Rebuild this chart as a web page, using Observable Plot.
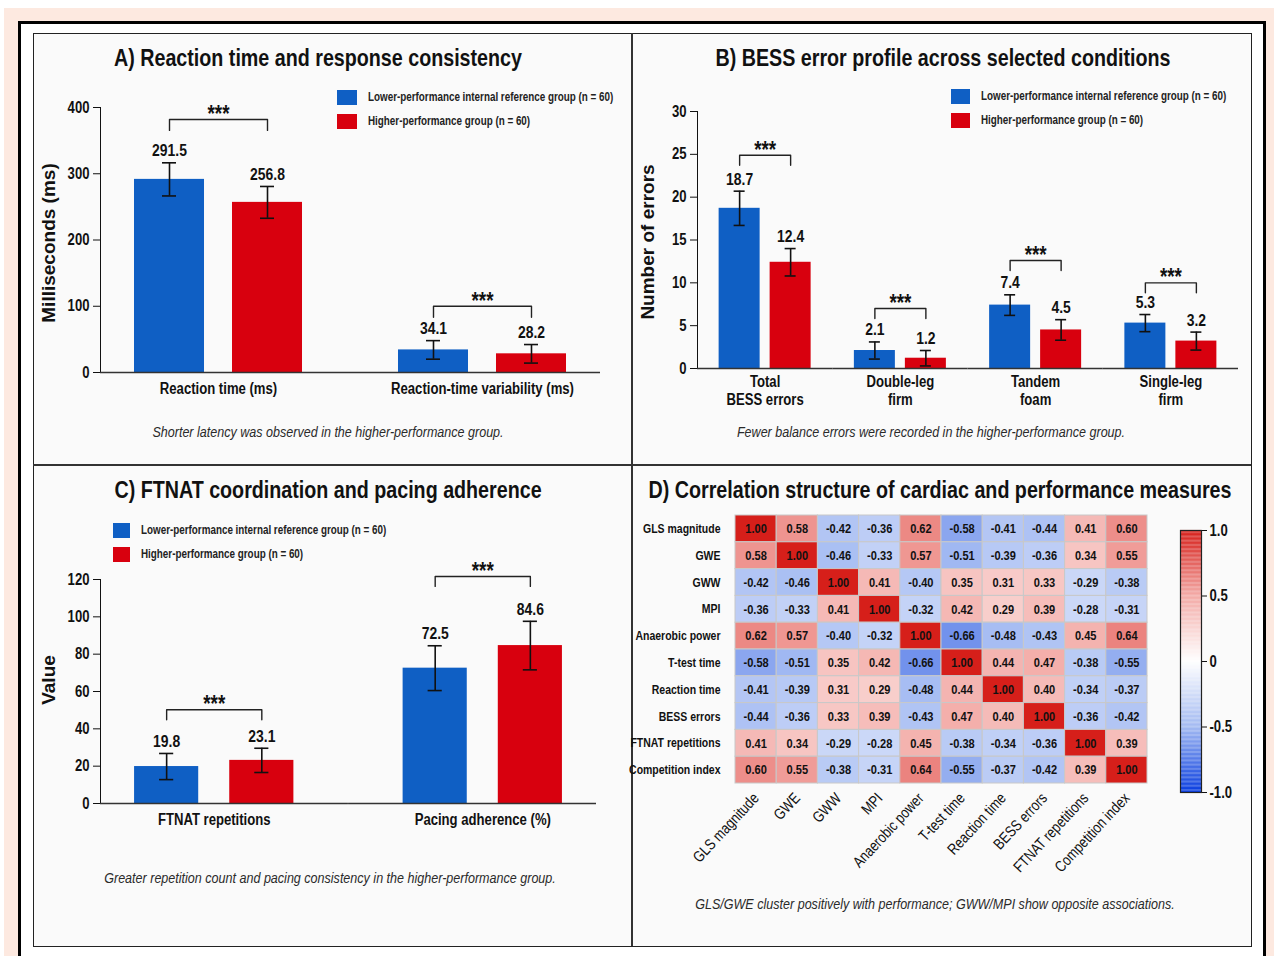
<!DOCTYPE html>
<html><head><meta charset="utf-8">
<script src="https://cdn.jsdelivr.net/npm/d3@7"></script>
<script src="https://cdn.jsdelivr.net/npm/@observablehq/plot@0.6"></script>
<style>
body{margin:0;width:1274px;height:956px;overflow:hidden;position:relative;background:#fff;font-family:'Liberation Sans',Arial,sans-serif;}
.c{position:absolute;transform:translate(-50%,-50%) scaleX(0.82);white-space:nowrap}
.title{font-weight:bold;font-size:24px;color:#111}
.cap{font-style:italic;font-size:15.3px;color:#2a2a2a}
.leg{position:absolute;font-size:12px;color:#222;font-weight:bold;white-space:nowrap;transform-origin:0 50%;transform:translateY(-50%) scaleX(0.82)}
.ylab{position:absolute;font-family:'Liberation Sans',Arial,sans-serif;font-weight:bold;font-size:19px;color:#111;white-space:nowrap;transform:translate(-50%,-50%) rotate(-90deg)}
</style></head><body>
<script>
// ---------------- data ----------------
const groupKeys = ["Lower", "Higher"];
const groupLabels = ["Lower-performance internal reference group (n = 60)", "Higher-performance group (n = 60)"];
const groupColors = ["#0f5fc4", "#d8000e"];
const sigLabel = "***";

const aCategories = ["Reaction time (ms)", "Reaction-time variability (ms)"];
const aLower = [291.5, 34.1];
const aHigher = [256.8, 28.2];
const aLowerSD = [25, 14];
const aHigherSD = [24, 14];
const aBrackets = [382, 100];
const aTicks = [0, 100, 200, 300, 400];

const bCategories = ["Total\nBESS errors", "Double-leg\nfirm", "Tandem\nfoam", "Single-leg\nfirm"];
const bLower = [18.7, 2.1, 7.4, 5.3];
const bHigher = [12.4, 1.2, 4.5, 3.2];
const bLowerSD = [2.0, 1.0, 1.2, 1.0];
const bHigherSD = [1.6, 0.9, 1.2, 1.05];
const bBrackets = [24.9, 7.0, 12.6, 10.0];
const bTicks = [0, 5, 10, 15, 20, 25, 30];

const cCategories = ["FTNAT repetitions", "Pacing adherence (%)"];
const cLower = [19.8, 72.5];
const cHigher = [23.1, 84.6];
const cLowerSD = [7, 12];
const cHigherSD = [6.5, 13];
const cBrackets = [50.2, 121.6];
const cTicks = [0, 20, 40, 60, 80, 100, 120];

const corrVars = ["GLS magnitude", "GWE", "GWW", "MPI", "Anaerobic power", "T-test time", "Reaction time", "BESS errors", "FTNAT repetitions", "Competition index"];
const corrMatrix = [
  [1.00, 0.58, -0.42, -0.36, 0.62, -0.58, -0.41, -0.44, 0.41, 0.60],
  [0.58, 1.00, -0.46, -0.33, 0.57, -0.51, -0.39, -0.36, 0.34, 0.55],
  [-0.42, -0.46, 1.00, 0.41, -0.40, 0.35, 0.31, 0.33, -0.29, -0.38],
  [-0.36, -0.33, 0.41, 1.00, -0.32, 0.42, 0.29, 0.39, -0.28, -0.31],
  [0.62, 0.57, -0.40, -0.32, 1.00, -0.66, -0.48, -0.43, 0.45, 0.64],
  [-0.58, -0.51, 0.35, 0.42, -0.66, 1.00, 0.44, 0.47, -0.38, -0.55],
  [-0.41, -0.39, 0.31, 0.29, -0.48, 0.44, 1.00, 0.40, -0.34, -0.37],
  [-0.44, -0.36, 0.33, 0.39, -0.43, 0.47, 0.40, 1.00, -0.36, -0.42],
  [0.41, 0.34, -0.29, -0.28, 0.45, -0.38, -0.34, -0.36, 1.00, 0.39],
  [0.60, 0.55, -0.38, -0.31, 0.64, -0.55, -0.37, -0.42, 0.39, 1.00]
];
const colorbarTicks = [-1, -0.5, 0, 0.5, 1];

// ---------------- helpers ----------------
const FONT = "'Liberation Sans',Arial,sans-serif";
const NARROW_K = 0.82;
function div(styles, text, cls) {
  const e = document.createElement("div");
  if (cls) e.className = cls;
  Object.assign(e.style, styles);
  if (text != null) e.textContent = text;
  document.body.appendChild(e);
  return e;
}
function ctext(x, y, text, cls) { return div({left: x + "px", top: y + "px"}, text, cls === "ylab" ? "ylab" : "c " + cls); }
// condense every SVG text horizontally around its own anchor (narrow typeface look)
function narrow(svg) {
  svg.querySelectorAll("text").forEach(t => {
    const tr = t.getAttribute("transform");
    if (tr) t.setAttribute("transform", tr + ` scale(${NARROW_K},1)`);
    else {
      const x = +(t.getAttribute("x") || 0), y = +(t.getAttribute("y") || 0);
      t.setAttribute("transform", `translate(${x},${y}) scale(${NARROW_K},1) translate(${-x},${-y})`);
    }
  });
  return svg;
}
function place(svg, left, top) {
  narrow(svg);
  svg.style.position = "absolute"; svg.style.left = left + "px"; svg.style.top = top + "px";
  document.body.appendChild(svg);
}
function legend(x, y, gap, sw, sh) {
  groupLabels.forEach((lab, i) => {
    div({position: "absolute", left: x + "px", top: (y + i * gap - sh / 2) + "px", width: sw + "px", height: sh + "px", background: groupColors[i]});
    div({left: (x + sw + 11) + "px", top: (y + i * gap) + "px"}, lab, "leg");
  });
}

// ---------------- page frame ----------------
div({position: "absolute", left: "4px", top: "8px", width: "1270px", height: "960px", background: "#fde9e0"});
div({position: "absolute", left: "18px", top: "21px", width: "1248px", height: "960px", border: "3px solid #000", boxSizing: "border-box", background: "#fff"});
div({position: "absolute", left: "33px", top: "33px", width: "1219px", height: "914px", border: "1.5px solid #222", boxSizing: "border-box", background: "#fafafa"});
div({position: "absolute", left: "631px", top: "33px", width: "1.6px", height: "913px", background: "#333"});
div({position: "absolute", left: "33px", top: "464px", width: "1218px", height: "1.6px", background: "#333"});

// ---------------- grouped bar panels ----------------
function groupedPlot(cfg) {
  const data = cfg.cats.flatMap((c, i) => [
    {cat: c, group: "Lower", value: cfg.lower[i], sd: cfg.lowerSD[i]},
    {cat: c, group: "Higher", value: cfg.higher[i], sd: cfg.higherSD[i]}
  ]);
  const bracketPts = cfg.cats.flatMap((c, i) => [
    {cat: c, group: "Lower", y: cfg.brackets[i] - cfg.leg},
    {cat: c, group: "Lower", y: cfg.brackets[i]},
    {cat: c, group: "Higher", y: cfg.brackets[i]},
    {cat: c, group: "Higher", y: cfg.brackets[i] - cfg.leg}
  ]);
  const stars = cfg.cats.map((c, i) => ({cat: c, y: cfg.brackets[i]}));
  const n = cfg.cats.length;
  const baselines = cfg.cats.map((c, i) => Plot.ruleY([c], {
    fx: d => d, y: () => 0, stroke: "#333", strokeWidth: 1.6,
    insetLeft: i > 0 ? -cfg.gap / 2 : 0, insetRight: i < n - 1 ? -cfg.gap / 2 : 0
  }));
  return Plot.plot({
    width: cfg.width, height: cfg.height,
    marginLeft: cfg.ml, marginRight: cfg.mr, marginTop: cfg.mt, marginBottom: cfg.mb,
    style: {fontFamily: FONT, fontSize: "16px", fontWeight: "bold", color: "#111", background: "transparent", overflow: "visible"},
    fx: {domain: cfg.cats, paddingInner: cfg.fxPad, paddingOuter: 0, round: false},
    x: {domain: groupKeys, paddingInner: cfg.xPadIn, paddingOuter: cfg.xPadOut, round: false, axis: null},
    y: {domain: cfg.yDomain, ticks: cfg.ticks, tickSize: 7, tickPadding: 4, label: null, line: true},
    color: {domain: groupKeys, range: groupColors},
    marks: [
      Plot.barY(data, {fx: "cat", x: "group", y: "value", fill: "group"}),
      ...baselines,
      Plot.ruleX(data, {fx: "cat", x: "group", y1: d => d.value - d.sd, y2: d => d.value + d.sd, stroke: "#111", strokeWidth: 1.6}),
      Plot.tickY(data, {fx: "cat", x: "group", y: d => d.value + d.sd, stroke: "#111", strokeWidth: 1.6, insetLeft: cfg.capInset, insetRight: cfg.capInset}),
      Plot.tickY(data, {fx: "cat", x: "group", y: d => d.value - d.sd, stroke: "#111", strokeWidth: 1.6, insetLeft: cfg.capInset, insetRight: cfg.capInset}),
      Plot.text(data, {fx: "cat", x: "group", y: d => d.value + d.sd, text: d => d.value.toFixed(1), dy: -12, fontSize: 17, fontWeight: "bold"}),
      Plot.line(bracketPts, {fx: "cat", x: "group", y: "y", z: "cat", stroke: "#222", strokeWidth: 1.4}),
      Plot.text(stars, {fx: "cat", y: "y", text: () => sigLabel, dy: -5, fontSize: 23, fontWeight: "bold"}),
      Plot.axisFx({anchor: "bottom", label: null, tickSize: 0, tickPadding: cfg.tickPad, fontSize: 16, lineHeight: 1.12})
    ]
  });
}

// Panel A
ctext(318, 58, "A) Reaction time and response consistency", "title");
legend(337, 97, 24, 20, 15);
ctext(49, 243, "Milliseconds (ms)", "ylab");
place(groupedPlot({
  cats: aCategories, lower: aLower, higher: aHigher, lowerSD: aLowerSD, higherSD: aHigherSD,
  brackets: aBrackets, leg: 16.6, ticks: aTicks, yDomain: [0, 400],
  width: 599, height: 332, ml: 67, mr: 32, mt: 27, mb: 40,
  fxPad: 0.106, gap: 28, xPadIn: 0.2857, xPadOut: 0.347, capInset: 28, tickPad: 9
}), 33, 80);
ctext(328, 432, "Shorter latency was observed in the higher-performance group.", "cap");

// Panel B
ctext(943, 58, "B) BESS error profile across selected conditions", "title");
legend(951, 96, 24, 19, 15);
ctext(648, 242, "Number of errors", "ylab");
place(groupedPlot({
  cats: bCategories, lower: bLower, higher: bHigher, lowerSD: bLowerSD, higherSD: bHigherSD,
  brackets: bBrackets, leg: 1.17, ticks: bTicks, yDomain: [0, 30],
  width: 618, height: 328, ml: 65, mr: 12, mt: 31, mb: 40,
  fxPad: 0, gap: 0, xPadIn: 0.196, xPadOut: 0.424, capInset: 15, tickPad: 6
}), 632, 80);
ctext(931, 432, "Fewer balance errors were recorded in the higher-performance group.", "cap");

// Panel C
ctext(328, 490, "C) FTNAT coordination and pacing adherence", "title");
legend(113, 530, 24, 17, 15);
ctext(49, 680, "Value", "ylab");
place(groupedPlot({
  cats: cCategories, lower: cLower, higher: cHigher, lowerSD: cLowerSD, higherSD: cHigherSD,
  brackets: cBrackets, leg: 5.3, ticks: cTicks, yDomain: [0, 120],
  width: 599, height: 293, ml: 67, mr: 36, mt: 29, mb: 40,
  fxPad: 0.153, gap: 41, xPadIn: 0.326, xPadOut: 0.358, capInset: 25, tickPad: 9
}), 33, 550);
ctext(330, 878, "Greater repetition count and pacing consistency in the higher-performance group.", "cap");

// Panel D
ctext(940, 490, "D) Correlation structure of cardiac and performance measures", "title");
const corrColor = {type: "linear", domain: [-1, -0.5, 0, 0.5, 1], range: ["#0a3ee0", "#a3baf2", "#ffffff", "#f3aaa6", "#d61f1a"]};
const corrCells = corrVars.flatMap((r, i) => corrVars.map((c, j) => ({row: r, col: c, r: corrMatrix[i][j]})));
place(Plot.plot({
  width: 618, height: 390, marginLeft: 103, marginRight: 103, marginTop: 10, marginBottom: 112,
  style: {fontFamily: FONT, fontSize: "13.5px", fontWeight: "bold", color: "#111", background: "transparent", overflow: "visible"},
  x: {domain: corrVars, padding: 0, round: false},
  y: {domain: corrVars, padding: 0, round: false},
  color: corrColor,
  marks: [
    Plot.cell(corrCells, {x: "col", y: "row", fill: "r", stroke: "#c8c8c8", strokeWidth: 1}),
    Plot.text(corrCells, {x: "col", y: "row", text: d => d.r.toFixed(2), fontSize: 13.5}),
    Plot.axisX({tickRotate: -47, tickSize: 0, tickPadding: 12, label: null, fontSize: 15.5, fontWeight: "normal"}),
    Plot.axisY({tickSize: 0, tickPadding: 15, label: null, fontSize: 12.8})
  ]
}), 632, 505);

// colour bar
const rampSteps = d3.range(-1, 1, 0.01);
place(Plot.plot({
  width: 80, height: 282, marginLeft: 10, marginRight: 49, marginTop: 10, marginBottom: 10,
  style: {fontFamily: FONT, fontSize: "16px", fontWeight: "bold", color: "#111", background: "transparent", overflow: "visible"},
  x: {domain: [0, 1], axis: null},
  y: {domain: [-1, 1], ticks: colorbarTicks, tickFormat: d => d === 0 ? "0" : d.toFixed(1), axis: "right", tickSize: 5, tickPadding: 3, label: null},
  color: corrColor,
  marks: [
    Plot.rect(rampSteps, {x1: 0, x2: 1, y1: d => d, y2: d => d + 0.0105, fill: d => d + 0.005}),
    Plot.frame({stroke: "#222", strokeWidth: 1.2})
  ]
}), 1170, 520);
ctext(935, 904, "GLS/GWE cluster positively with performance; GWW/MPI show opposite associations.", "cap");
</script>
</body></html>
